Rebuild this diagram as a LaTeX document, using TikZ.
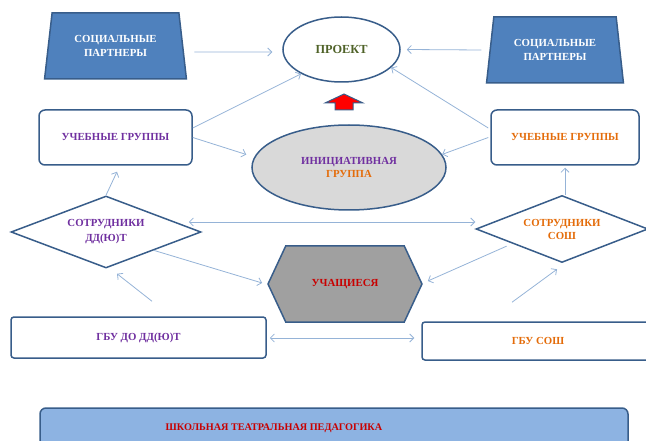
\documentclass[tikz,border=0pt]{standalone}
\usepackage{fontspec}
\setmainfont{Liberation Serif}
\usetikzlibrary{shapes.geometric,shapes.symbols,arrows.meta}
\definecolor{frame}{RGB}{56,93,138}
\definecolor{partnerblue}{RGB}{79,129,189}
\definecolor{linkblue}{RGB}{149,179,215}
\definecolor{lilac}{RGB}{112,48,160}
\definecolor{amber}{RGB}{228,108,10}
\definecolor{projgreen}{RGB}{79,98,40}
\definecolor{redtext}{RGB}{200,0,0}
\definecolor{hexgray}{RGB}{160,160,160}
\definecolor{initgray}{RGB}{217,217,217}
\definecolor{barblue}{RGB}{141,179,226}
\begin{document}
\begin{tikzpicture}[x=1pt,y=1pt]
\tikzstyle{every node}+=[inner sep=0pt, align=center, font=\bfseries\fontsize{10.8}{14}\selectfont]
\tikzstyle{outline}=[draw=frame, line width=1.5pt]
\tikzstyle{partner}=[outline, fill=partnerblue, text=white, trapezium, trapezium stretches=true, trapezium left angle=77, trapezium right angle=77, minimum height=66pt]
\tikzstyle{box}=[outline, rectangle, rounded corners=6pt, fill=white]
\tikzstyle{staff}=[outline, diamond, aspect=2.6, fill=white]
\tikzstyle{conn}=[draw=linkblue, line width=0.8pt, >={Straight Barb[length=4pt,width=8pt]}]
\useasboundingbox (0,0) rectangle (646,-441);
\node[partner, minimum width=143pt] (partnerL) at (115.5,-46) {СОЦИАЛЬНЫЕ\\ПАРТНЕРЫ};
\node[partner, minimum width=138pt] (partnerR) at (555,-50) {СОЦИАЛЬНЫЕ\\ПАРТНЕРЫ};
\node[outline, ellipse, fill=white, minimum width=117pt, minimum height=65pt, text=projgreen, font=\bfseries\fontsize{12.3}{14}\selectfont] (proj) at (341.5,-49.5) {ПРОЕКТ};
\node[outline, ellipse, fill=initgray, minimum width=194pt, minimum height=85pt, font=\bfseries\fontsize{10.8}{13.5}\selectfont] (init) at (349,-167.5) {\textcolor{lilac}{ИНИЦИАТИВНАЯ}\\\textcolor{amber}{ГРУППА}};
\draw[draw=frame, line width=1pt, fill=red] (335,-110) -- (335,-103) -- (325,-103) -- (344,-94) -- (363,-103) -- (353,-103) -- (353,-110) -- cycle;
\node[box, minimum width=153pt, minimum height=55pt, text=lilac] (groupL) at (115.5,-137.5) {УЧЕБНЫЕ ГРУППЫ};
\node[box, minimum width=148pt, minimum height=55pt, text=amber] (groupR) at (565,-137.5) {УЧЕБНЫЕ ГРУППЫ};
\node[staff, minimum width=190pt, minimum height=72pt, text=lilac, font=\bfseries\fontsize{10.8}{15}\selectfont] (staffL) at (106,-232) {СОТРУДНИКИ\\ДД(Ю)Т};
\node[staff, minimum width=172pt, minimum height=67pt, text=amber, font=\bfseries\fontsize{10.8}{13}\selectfont] (staffR) at (562,-229) {СОТРУДНИКИ\\СОШ};
\node[outline, signal, signal to=west and east, signal pointer angle=130, fill=hexgray, minimum width=154pt, minimum height=76pt, text=redtext] (pupils) at (345,-284) {УЧАЩИЕСЯ};
\node[box, rounded corners=3pt, minimum width=255pt, minimum height=41pt, text=lilac] (gbuL) at (138.5,-337.5) {ГБУ ДО ДД(Ю)Т};
\node[box, rounded corners=3pt, minimum width=232pt, minimum height=38pt, text=amber] (gbuR) at (538,-341) {ГБУ СОШ};
\node[box, fill=barblue, minimum width=588pt, minimum height=40pt] (school) at (334,-428) {};
\node[text=redtext, font=\bfseries\fontsize{10.2}{12}\selectfont] (schoolText) at (274,-428) {ШКОЛЬНАЯ ТЕАТРАЛЬНАЯ ПЕДАГОГИКА};
\draw[conn, ->] ([xshift=11pt,yshift=-6pt]partnerL.east) -- ([xshift=-10pt,yshift=-2.5pt]proj.west);
\draw[conn, ->] ([xshift=-8pt]partnerR.west) -- ([xshift=6pt]proj.east);
\draw[conn, ->] ([yshift=9.5pt]groupL.east) -- (proj.211);
\draw[conn, ->] (groupL.east) -- ([xshift=-5pt,yshift=13pt]init.west);
\draw[conn, ->] ([xshift=-2pt,yshift=9.5pt]groupR.west) -- (proj.-20);
\draw[conn, ->] ([xshift=-2pt]groupR.west) -- (init.8);
\draw[conn, ->] (staffL.north) -- ([xshift=1.5pt,yshift=-6pt]groupL.south);
\draw[conn, ->] ([xshift=3pt]staffR.north) -- ([yshift=-2pt]groupR.south);
\draw[conn, <->] ([xshift=-13pt,yshift=10pt]staffL.east) -- ([yshift=7pt]staffR.west);
\draw[conn, ->] (staffL.south east) -- ([xshift=-5pt,yshift=1pt]pupils.west);
\draw[conn, ->] ([xshift=-12pt]staffR.south west) -- ([xshift=5pt,yshift=3pt]pupils.east);
\draw[conn, ->] ([xshift=13.5pt,yshift=15pt]gbuL.north) -- ([xshift=11pt,yshift=-5pt]staffL.south);
\draw[conn, ->] ([xshift=-26pt,yshift=19pt]gbuR.north) -- ([xshift=-5pt,yshift=-6pt]staffR.south);
\draw[conn, <->] ([xshift=3pt,yshift=-0.5pt]gbuL.east) -- ([xshift=-7pt,yshift=3pt]gbuR.west);
\end{tikzpicture}
\end{document}
